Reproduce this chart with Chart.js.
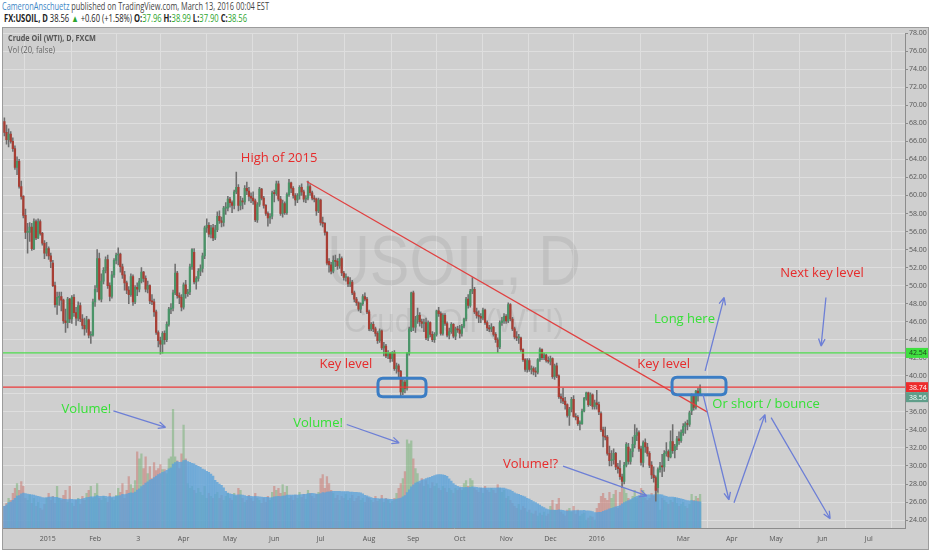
<!DOCTYPE html>
<html><head><meta charset="utf-8">
<script src="https://cdn.jsdelivr.net/npm/chart.js@4.4.0/dist/chart.umd.min.js"></script>
<style>
html,body{margin:0;padding:0;background:#fff;width:932px;height:550px;overflow:hidden;font-family:'Open Sans',sans-serif;}
.t{position:absolute;white-space:nowrap;transform-origin:0 50%;}
#h1{left:2px;top:0px;font-size:10px;line-height:13px;color:#444;}
#h1 b{font-weight:normal;color:#3d86c6;}
#h2{left:4px;top:12px;font-size:10px;line-height:13px;color:#222;}
#h2 .g{color:#2ea52e;}
#wrap{position:absolute;left:3px;top:28px;width:925px;height:521px;background:#cfcfcf;outline:1px solid #9c9c9c;}
#t1{left:8px;top:32px;font-size:9px;line-height:12px;color:#555;font-weight:bold;z-index:2;}
#t2{left:8px;top:44px;font-size:9px;line-height:12px;color:#666;z-index:2;}
</style></head>
<body>
<div id="h1" class="t"><b>CameronAnschuetz</b> published on TradingView.com, March 13, 2016 00:04 EST</div>
<div id="h2" class="t"><span style="font-weight:bold">FX:USOIL, D</span> 38.56 <span class="g">&#9650;</span> +0.60 (+1.58%) <b>O:</b><span class="g">37.96</span> <b>H:</b><span class="g">38.99</span> <b>L:</b><span class="g">37.90</span> <b>C:</b><span class="g">38.56</span></div>
<div id="wrap"><canvas id="c"></canvas></div>
<div id="t1" class="t">Crude Oil (WTI), D, FXCM</div>
<div id="t2" class="t">Vol (20, false)</div>
<script>
// ---- data (daily bars, Dec 1 2014 .. Mar 11 2016) ----
const opens = [68.2,67.0,66.2,66.8,66.0,65.2,63.1,63.8,61.0,59.9,
57.8,55.9,55.9,56.5,54.1,57.1,55.3,57.1,55.8,54.7,
53.6,54.1,53.3,52.5,50.0,47.9,48.7,48.8,48.4,46.1,
45.9,48.5,46.3,48.7,47.0,46.4,47.8,46.3,45.6,45.2,
46.2,44.5,44.5,48.2,49.8,53.0,48.5,50.5,51.7,52.9,
50.0,48.8,51.2,52.8,53.4,53.5,52.1,51.2,50.3,49.5,
49.0,51.0,48.2,49.8,49.6,50.5,51.5,50.8,49.6,50.0,
48.3,48.2,47.1,44.8,43.9,43.5,44.7,44.0,45.7,47.4,
47.5,49.2,51.4,48.9,48.7,47.6,50.1,49.1,49.3,52.1,
53.7,50.4,50.8,51.6,51.9,53.3,56.4,56.7,55.7,56.4,
55.3,56.2,57.7,57.2,57.0,58.6,58.6,59.6,59.2,58.9,
60.4,60.9,58.9,59.4,59.3,60.8,60.5,59.9,59.7,59.4,
57.3,59.0,60.7,59.7,58.9,58.0,57.5,57.7,60.3,60.2,
61.3,59.6,58.0,59.1,58.1,60.1,61.4,60.8,60.0,59.5,
60.0,60.9,60.4,59.6,59.7,61.0,60.3,59.7,59.6,58.3,
59.5,57.0,56.9,55.9,52.7,52.3,51.6,52.8,52.7,52.2,
53.0,51.4,50.9,50.9,50.2,50.4,49.2,48.5,48.1,47.4,
48.0,48.8,48.5,47.1,45.2,45.7,45.2,44.7,43.9,45.0,
43.1,43.3,42.2,42.5,41.9,42.6,40.8,41.1,40.5,38.2,
39.3,38.6,42.5,45.0,49.2,45.4,46.2,46.7,46.0,45.8,
45.9,44.2,45.9,44.6,44.0,44.6,47.2,46.9,44.7,46.7,
45.8,44.5,44.9,45.7,44.4,45.2,45.1,44.7,45.5,46.3,
48.5,47.8,49.4,49.6,47.1,46.7,46.6,46.4,47.3,45.9,
45.3,45.2,45.4,44.6,44.0,43.2,45.9,46.1,46.6,46.1,
47.9,46.3,45.2,44.3,44.2,44.2,42.9,41.8,40.7,41.7,
40.7,40.8,40.5,40.4,41.8,42.9,42.0,42.3,41.7,41.6,
41.9,39.9,41.1,40.0,37.7,37.5,37.2,36.8,35.6,36.3,
37.4,35.5,35.4,34.7,34.7,36.1,37.5,38.1,36.8,37.9,
36.6,37.0,36.8,35.8,34.0,33.3,33.2,31.4,30.6,30.7,
31.4,29.9,29.7,28.8,28.3,30.1,32.1,30.5,31.6,32.4,
33.4,33.7,31.9,30.4,32.6,32.1,31.4,30.1,29.0,28.7,
27.6,29.6,30.0,29.9,31.4,31.6,31.0,32.7,31.7,32.2,
33.0,32.8,33.7,34.4,34.7,34.6,36.1,37.8,36.5,38.3,
37.96];
const highs = [68.6,67.8,67.4,67.1,66.4,65.5,64.3,64.0,61.6,60.0,
58.5,56.9,57.0,56.9,57.4,57.3,57.4,57.3,55.9,55.0,
54.8,54.3,53.6,52.8,50.4,49.3,49.3,49.3,48.5,47.4,
48.7,48.6,48.9,49.0,47.6,48.2,48.1,46.8,46.4,46.6,
46.3,44.9,48.5,50.0,54.0,53.6,51.3,52.0,53.2,53.4,
50.3,51.6,53.0,53.6,54.2,53.6,52.4,51.6,50.5,49.9,
51.3,51.2,50.0,50.3,50.8,52.0,51.6,51.1,50.5,50.1,
49.0,48.5,47.3,45.0,44.3,44.9,45.0,46.0,47.6,48.0,
49.5,52.4,51.6,49.2,49.0,50.3,50.6,49.6,52.4,54.1,
54.1,51.0,51.9,52.3,53.6,56.6,57.4,57.0,56.7,56.8,
56.7,58.2,58.3,57.6,58.8,59.2,59.9,59.8,59.4,60.6,
62.6,61.2,59.9,59.7,61.1,61.5,60.9,60.3,60.4,59.6,
59.2,60.9,60.8,59.9,59.0,58.2,58.0,60.5,60.6,61.6,
61.6,59.9,59.5,59.3,60.3,61.8,61.5,61.0,60.2,60.2,
61.1,61.3,60.6,60.0,61.6,61.2,60.5,60.0,59.7,59.7,
59.6,57.6,57.0,56.0,53.0,52.6,53.3,53.4,53.0,53.5,
53.2,51.6,51.3,51.0,50.9,50.6,49.4,48.7,48.2,48.1,
49.0,49.2,48.7,47.3,45.9,46.0,45.4,44.9,45.2,45.1,
43.7,43.5,42.8,42.6,42.7,42.8,41.4,41.3,40.6,39.8,
39.5,42.6,45.4,49.3,49.4,46.6,47.5,47.0,46.3,46.3,
46.4,46.1,46.0,44.9,44.8,47.3,47.6,47.1,46.9,46.9,
46.0,45.3,45.9,45.8,45.4,45.5,45.6,45.7,46.4,48.7,
49.0,49.6,50.9,49.8,47.5,47.2,46.9,47.5,47.4,46.1,
45.6,45.8,45.5,44.8,44.2,46.1,46.5,46.9,46.8,48.1,
48.0,46.5,45.4,44.9,44.6,44.3,43.0,41.9,41.9,41.9,
41.1,41.0,40.9,41.9,43.1,43.0,42.5,42.4,42.1,42.2,
42.0,41.3,41.4,40.1,38.0,38.6,37.6,36.9,36.5,37.6,
37.8,35.8,35.6,35.0,36.3,37.6,38.2,38.2,38.1,38.0,
37.3,38.4,37.1,36.0,34.3,34.3,33.4,32.2,31.7,31.9,
31.5,30.3,30.6,29.1,30.4,32.6,32.5,31.9,33.2,34.6,
34.2,33.9,32.2,32.8,33.0,32.5,31.6,30.5,29.9,28.9,
29.8,30.4,31.3,31.7,32.6,31.8,33.9,34.6,32.4,33.3,
33.8,34.0,34.7,34.9,35.1,36.1,38.0,37.9,38.4,38.6,
38.99];
const lows = [66.6,65.7,65.4,65.8,64.9,62.9,62.3,60.8,59.6,57.5,
55.2,53.6,54.9,53.9,54.0,55.1,55.2,55.6,54.5,53.0,
53.3,52.9,52.0,49.9,47.6,46.8,47.8,47.2,45.8,44.8,
45.3,45.9,45.8,46.6,45.6,46.1,46.0,45.2,44.5,44.8,
44.2,43.6,44.4,47.7,49.3,48.4,48.2,50.2,51.4,49.7,
48.3,48.6,50.9,52.4,52.3,51.5,50.8,49.5,49.1,48.0,
48.8,47.8,48.0,48.9,49.3,50.3,50.4,49.3,49.2,48.0,
47.9,46.6,44.6,43.2,42.4,42.5,43.5,43.8,45.5,46.9,
47.2,49.0,48.6,48.0,47.2,47.4,48.6,48.8,49.0,51.8,
50.2,49.6,50.5,51.1,51.5,53.0,55.9,55.4,55.3,55.0,
55.1,56.0,56.9,56.5,56.6,57.9,58.3,58.7,58.1,58.5,
60.2,58.3,58.4,58.5,59.0,60.1,59.4,59.2,59.0,57.1,
57.0,58.8,59.5,58.6,57.8,56.6,56.9,57.4,59.3,60.0,
59.4,57.8,57.6,57.9,57.9,59.9,60.3,59.7,58.9,59.2,
59.6,60.0,59.3,59.2,59.5,60.0,59.5,59.3,57.8,58.1,
56.7,56.5,55.6,52.3,51.5,51.3,51.4,52.1,51.8,51.9,
51.1,50.6,50.5,49.9,49.9,49.0,48.2,47.8,47.2,47.0,
47.8,48.3,46.9,45.0,45.0,44.9,44.4,43.6,43.7,42.9,
42.2,42.0,41.9,41.5,41.6,40.6,40.3,39.9,37.8,37.9,
38.1,38.4,42.3,44.9,45.0,44.8,45.8,45.5,45.3,44.9,
44.0,43.9,44.3,43.8,43.7,44.4,46.6,44.5,44.5,45.6,
44.3,44.1,44.7,44.2,44.0,44.8,44.2,44.4,45.3,46.1,
47.5,47.6,49.1,46.9,46.4,45.9,45.9,46.2,45.7,45.0,
44.9,44.9,44.4,43.7,42.6,43.0,45.6,45.8,45.8,45.9,
46.1,45.0,44.1,43.9,43.6,42.7,41.6,40.5,40.4,40.5,
40.2,40.1,39.9,40.2,41.6,41.8,41.8,41.5,41.4,41.2,
39.7,39.6,39.8,37.5,37.0,36.9,36.3,35.4,34.5,36.0,
35.4,35.1,34.5,34.0,34.6,36.0,37.3,36.6,36.7,36.3,
36.3,36.3,35.7,33.8,32.1,32.9,31.2,30.0,30.0,30.2,
29.6,29.2,28.5,27.6,28.0,29.9,30.2,30.2,31.0,32.0,
32.8,31.6,30.1,29.9,31.5,31.1,29.8,28.6,28.2,26.1,
27.1,29.3,28.8,29.4,31.1,30.6,30.9,31.4,30.9,31.8,
32.4,32.6,33.4,33.6,34.0,34.4,35.7,36.2,36.3,37.2,
37.90];
const closes = [67.0,66.2,66.8,66.0,65.2,63.1,63.8,61.0,59.9,57.8,
55.9,55.9,56.5,54.1,57.1,55.3,57.1,55.8,54.7,53.6,
54.1,53.3,52.7,50.0,47.9,48.7,48.8,48.4,46.1,45.9,
48.5,46.3,48.7,47.0,46.4,47.8,46.3,45.6,45.2,46.2,
44.5,44.5,48.2,49.6,53.0,48.5,50.5,51.7,52.9,50.0,
48.8,51.2,52.8,53.4,53.5,52.1,51.2,50.3,49.5,49.0,
51.0,48.2,49.8,49.6,50.5,51.5,50.8,49.6,50.0,48.3,
48.2,47.1,44.8,43.9,43.5,44.7,44.0,45.7,47.4,47.5,
49.2,51.4,48.9,48.7,47.6,50.1,49.1,49.3,52.1,54.0,
50.4,50.8,51.6,51.9,53.3,56.4,56.7,55.7,56.4,55.3,
56.2,57.7,57.2,57.0,58.6,58.6,59.6,59.2,58.9,60.4,
60.9,58.9,59.4,59.3,60.8,60.5,59.9,59.7,59.4,57.3,
59.0,60.7,59.7,58.9,58.0,57.5,57.7,60.3,60.2,61.3,
59.6,58.0,59.1,58.1,60.1,61.4,60.8,60.0,59.5,60.0,
60.9,60.4,59.6,59.7,61.0,60.3,59.7,59.6,58.3,59.5,
57.0,56.9,55.9,52.5,52.3,51.6,52.8,52.7,52.2,53.0,
51.4,50.9,50.9,50.2,50.4,49.2,48.5,48.1,47.4,48.0,
48.8,48.5,47.1,45.2,45.7,45.2,44.7,43.9,45.0,43.1,
43.3,42.2,42.5,41.9,42.6,40.8,41.1,40.5,38.2,39.3,
38.6,42.5,45.2,49.2,45.4,46.2,46.7,46.0,45.8,45.9,
44.2,45.9,44.6,44.0,44.6,47.2,46.9,44.7,46.7,45.8,
44.5,44.9,45.7,44.4,45.2,45.1,44.7,45.5,46.3,48.5,
47.8,49.4,49.6,47.1,46.7,46.6,46.4,47.3,45.9,45.3,
45.2,45.4,44.6,44.0,43.2,45.9,46.1,46.6,46.1,47.9,
46.3,45.2,44.3,44.2,44.2,42.9,41.8,40.7,41.7,40.7,
40.8,40.5,40.4,41.8,42.9,42.0,42.3,41.7,41.6,41.9,
39.9,41.1,40.0,37.7,37.5,37.2,36.8,35.6,36.3,37.4,
35.5,35.4,34.7,34.7,36.1,37.5,38.1,36.8,37.9,36.6,
37.0,36.8,36.0,34.0,33.3,33.2,31.4,30.6,30.7,31.4,
29.9,29.7,28.8,28.3,30.1,32.4,30.5,31.6,32.4,33.4,
33.7,31.9,30.4,32.6,32.1,31.4,30.1,29.0,28.7,27.3,
29.6,30.0,29.9,31.4,31.6,31.0,32.7,31.7,32.2,33.0,
32.8,33.7,34.4,34.7,34.6,35.9,37.8,36.5,38.3,37.96,
38.56];
const volumes = [22,25,30,28,35,40,45,38,47,42,30,28,33,25,30,22,26,20,18,24,
30,35,28,32,25,42,30,28,33,38,26,42,25,22,28,30,24,32,28,35,38,42,30,35,45,30,
28,32,30,26,35,30,28,33,40,36,45,30,38,52,44,40,48,
77,70,75,60,72,
55,62,50,66,58,60,64,59,
59,55,70,72,120,
72,68,60,75,104,70,
45,40,42,38,35,40,36,33,42,30,35,32,30,34,36,30,33,28,32,35,
30,28,35,32,40,38,30,26,28,33,30,27,35,30,28,25,30,26,32,28,36,
42,38,40,35,44,36,42,30,32,28,33,30,36,31,34,29,38,35,32,30,34,36,
50,54,40,52,45,38,35,30,33,28,32,30,34,28,30,33,27,30,32,28,30,26,31,
30,28,26,32,27,29,33,26,30,28,25,27,30,35,40,45,50,
57,89,85,88,70,60,55,45,50,42,
48,44,40,46,42,45,40,38,42,40,36,40,38,35,40,38,
40,38,45,48,42,50,48,40,38,36,40,35,42,38,36,40,38,35,44,40,36,38,
30,32,28,25,22,20,24,18,22,20,16,18,15,14,17,12,15,13,16,12,14,
22,28,18,24,30,16,14,12,18,20,16,22,14,18,12,14,15,8,10,12,11,8,
20,25,32,35,30,28,36,30,34,38,20,36,45,40,35,30,28,32,38,30,
32,40,38,30,28,30,35,32,42,36,18,30,28,26,24,28,26,30,25,22,24,26,22,20,24,34,28,32,30,34];
const tickPos = [20.6,43,63.5,85,107,128,150,173,194,216,238,259,281,322,345,366,388,410];
const tickLabels = ['2015','Feb','3','Apr','May','Jun','Jul','Aug','Sep','Oct','Nov','Dec','2016','Mar','Apr','May','Jun','Jul'];
const priceTicks = [24,26,28,30,32,34,36,38,40,42,44,46,48,50,52,54,56,58,60,62,64,66,68,70,72,74,76,78];
const levelGreen = 42.54, levelRed = 38.74, lastPrice = 38.56;
const trendStart = [143.4, 61.55], trendEnd = [333.3, 36.0];

// 20-bar volume moving average (the "Vol (20)" indicator)
const volMA = volumes.map((_, i) => {
  const s = volumes.slice(Math.max(0, i - 19), i + 1);
  return s.reduce((a, b) => a + b, 0) / s.length;
});

const UP = '#4a9468', DN = '#a83e34';
const idx = closes.map((_, i) => i);
const isUp = i => closes[i] >= opens[i];
const X_MIN = -0.66, X_MAX = 427.2;

// annotations in (bar index, price) coordinates
const notes = {
  rects: [[177.2, 39.74, 200.0, 37.69], [316.7, 39.83, 342.3, 37.91]],
  texts: [
    ['High of 2015', 130.3, 64.17, '#e62b2b'],
    ['Key level', 162.0, 41.24, '#e62b2b'],
    ['Key level', 312.7, 41.32, '#e62b2b'],
    ['Next key level', 387.8, 51.33, '#e62b2b'],
    ['Long here', 322.6, 46.27, '#36e036'],
    ['Or short / bounce', 361.3, 36.84, '#36e036'],
    ['Volume!', 38.9, 36.26, '#36e036'],
    ['Volume!', 148.8, 34.72, '#36e036'],
    ['Volume!?', 249.6, 30.21, '#e62b2b']
  ],
  arrows: [
    [51.7, 36.12, 76.5, 34.28],
    [162.4, 34.6, 187.3, 32.56],
    [265.0, 29.98, 304.8, 26.68],
    [332.4, 40.55, 341.4, 48.69],
    [389.7, 48.69, 387.4, 43.3],
    [331.4, 37.91, 343.7, 26.25],
    [346.1, 25.92, 360.8, 35.7],
    [363.7, 35.37, 391.7, 24.15]
  ]
};

function fitText(ctx, t, font, cx, y, w) {
  ctx.font = font;
  const m = ctx.measureText(t).width;
  ctx.save(); ctx.translate(cx, y); ctx.scale(w / m, 1);
  ctx.fillText(t, 0, 0); ctx.restore();
}
function arrow(ctx, x1, y1, x2, y2) {
  const a = Math.atan2(y2 - y1, x2 - x1), L = 8, s = 0.42;
  ctx.beginPath(); ctx.moveTo(x1, y1); ctx.lineTo(x2, y2);
  ctx.moveTo(x2, y2); ctx.lineTo(x2 - L * Math.cos(a - s), y2 - L * Math.sin(a - s));
  ctx.moveTo(x2, y2); ctx.lineTo(x2 - L * Math.cos(a + s), y2 - L * Math.sin(a + s));
  ctx.stroke();
}
function rrect(ctx, x, y, w, h, r) {
  ctx.beginPath();
  ctx.moveTo(x + r, y); ctx.lineTo(x + w - r, y); ctx.quadraticCurveTo(x + w, y, x + w, y + r);
  ctx.lineTo(x + w, y + h - r); ctx.quadraticCurveTo(x + w, y + h, x + w - r, y + h);
  ctx.lineTo(x + r, y + h); ctx.quadraticCurveTo(x, y + h, x, y + h - r);
  ctx.lineTo(x, y + r); ctx.quadraticCurveTo(x, y, x + r, y); ctx.closePath();
}

const overlay = {
  id: 'overlay',
  beforeDatasetsDraw(chart) {
    const { ctx, chartArea: a } = chart;
    ctx.save();
    ctx.beginPath(); ctx.rect(a.left, a.top, a.right - a.left, a.bottom - a.top); ctx.clip();
    ctx.fillStyle = 'rgba(0,0,0,0.065)';
    ctx.textAlign = 'center'; ctx.textBaseline = 'alphabetic';
    const cx = (a.left + a.right) / 2;
    fitText(ctx, 'USOIL, D', '70px "Liberation Sans", Arial, sans-serif', cx, a.top + 252, 254);
    fitText(ctx, 'Crude Oil (WTI)', '34px "Liberation Sans", Arial, sans-serif', cx, a.top + 299, 220);
    ctx.restore();
  },
  afterDatasetsDraw(chart) {
    const { ctx, chartArea: a } = chart;
    const X = v => chart.scales.x.getPixelForValue(v), Y = v => chart.scales.y.getPixelForValue(v);
    ctx.save();
    ctx.beginPath(); ctx.rect(a.left, a.top, a.right - a.left, a.bottom - a.top); ctx.clip();
    ctx.strokeStyle = '#3b7dc4'; ctx.lineWidth = 3;
    notes.rects.forEach(r => {
      const x1 = X(r[0]), y1 = Y(r[1]), x2 = X(r[2]), y2 = Y(r[3]);
      rrect(ctx, x1, y1, x2 - x1, y2 - y1, 5); ctx.stroke();
    });
    ctx.strokeStyle = '#6d7fd6'; ctx.lineWidth = 1.3;
    notes.arrows.forEach(r => arrow(ctx, X(r[0]), Y(r[1]), X(r[2]), Y(r[3])));
    ctx.font = '13px "Open Sans", sans-serif';
    ctx.textAlign = 'center'; ctx.textBaseline = 'middle';
    notes.texts.forEach(tx => { ctx.fillStyle = tx[3]; ctx.fillText(tx[0], X(tx[1]), Y(tx[2])); });
    ctx.restore();
  },
  afterDraw(chart) {
    const { ctx, chartArea: a } = chart;
    const Y = v => chart.scales.y.getPixelForValue(v);
    const x0 = a.right;
    function box(v, bg, fg, yc) {
      ctx.fillStyle = bg; ctx.fillRect(x0 + 1, yc - 5, 22, 10);
      ctx.fillStyle = fg; ctx.font = '7px "Open Sans", sans-serif';
      ctx.textAlign = 'left'; ctx.textBaseline = 'middle';
      ctx.fillText(v.toFixed(2), x0 + 4, yc + 0.5);
    }
    ctx.save();
    box(levelGreen, '#3fe03f', '#1d3d1d', Y(levelGreen));
    const yr = Y(levelRed);
    box(levelRed, '#ee2c2c', '#ffffff', yr);
    box(lastPrice, '#5f9e8a', '#ffffff', Math.max(Y(lastPrice), yr + 10));
    ctx.restore();
  }
};

const lineDs = (label, pts, color) => ({
  type: 'line', label, data: pts.map(p => ({ x: p[0], y: p[1] })),
  borderColor: color, borderWidth: 1.2, pointRadius: 0, fill: false, tension: 0,
  order: 0, yAxisID: 'y'
});

new Chart(document.getElementById('c'), {
  type: 'bar',
  data: {
    datasets: [
      lineDs('green level', [[X_MIN, levelGreen], [X_MAX, levelGreen]], '#4fdc4f'),
      lineDs('red level', [[X_MIN, levelRed], [X_MAX, levelRed]], '#ec3b3b'),
      lineDs('trend', [trendStart, trendEnd], '#e04040'),
      { label: 'body', data: idx.map(i => ({ x: i, y: [opens[i], closes[i]] })),
        backgroundColor: idx.map(i => isUp(i) ? UP : DN), barThickness: 1.6, minBarLength: 1,
        grouped: false, order: 1, yAxisID: 'y' },
      { label: 'wick', data: idx.map(i => ({ x: i, y: [lows[i], highs[i]] })),
        backgroundColor: '#6e6e6e', barThickness: 0.9, grouped: false, order: 2, yAxisID: 'y' },
      { label: 'volMA', data: idx.map(i => ({ x: i, y: volMA[i] })),
        backgroundColor: 'rgba(90,162,218,0.78)', barThickness: 1.75, grouped: false, order: 4, yAxisID: 'yv' },
      { label: 'vol', data: idx.map(i => ({ x: i, y: volumes[i] })),
        backgroundColor: idx.map(i => isUp(i) ? 'rgba(96,170,96,0.42)' : 'rgba(200,96,86,0.42)'),
        barThickness: 1.6, grouped: false, order: 5, yAxisID: 'yv' }
    ]
  },
  options: {
    responsive: true, maintainAspectRatio: false, animation: false, events: [],
    layout: { padding: 0, autoPadding: false },
    plugins: { legend: { display: false }, tooltip: { enabled: false } },
    scales: {
      x: {
        type: 'linear', min: X_MIN, max: X_MAX, offset: false,
        afterBuildTicks: s => { s.ticks = tickPos.map(v => ({ value: v })); },
        afterFit: s => { s.height = 21; },
        ticks: { autoSkip: false, maxRotation: 0, callback: (v, i) => tickLabels[i],
          font: { size: 7, family: 'Open Sans' }, color: '#555', padding: 7 },
        grid: { color: '#dedede', lineWidth: 1, drawTicks: false },
        border: { display: true, color: '#8c8c8c' }
      },
      y: {
        type: 'linear', position: 'right', min: 23.12, max: 78,
        afterBuildTicks: s => { s.ticks = priceTicks.map(v => ({ value: v })); },
        afterFit: s => { s.width = 23; },
        ticks: { autoSkip: false, callback: v => Number(v).toFixed(2),
          font: { size: 7, family: 'Open Sans' }, color: '#555', padding: 1 },
        grid: { color: '#dedede', lineWidth: 1, drawTicks: true, tickLength: 3, tickColor: '#8c8c8c' },
        border: { display: true, color: '#8c8c8c' }
      },
      yv: { type: 'linear', display: false, min: 0, max: 500 }
    }
  },
  plugins: [overlay]
});

function fitEl(id, w) {
  const el = document.getElementById(id);
  el.style.transform = 'none';
  const r = el.getBoundingClientRect().width;
  el.style.transform = 'scaleX(' + (w / r) + ')';
}
function fitAll() { fitEl('h1', 267); fitEl('h2', 243); fitEl('t1', 88); fitEl('t2', 47); }
fitAll();
if (document.fonts && document.fonts.ready) document.fonts.ready.then(fitAll);
</script>
</body></html>
